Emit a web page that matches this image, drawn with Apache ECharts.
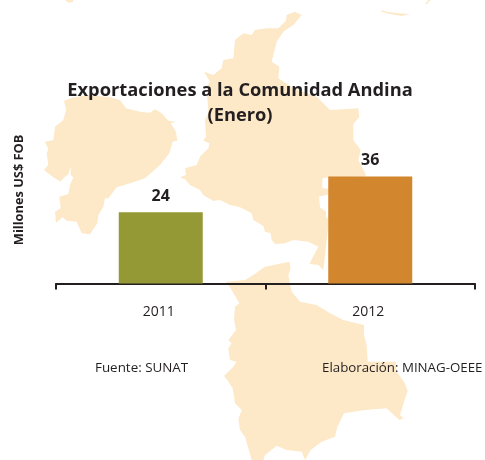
<!DOCTYPE html>
<html>
<head>
<meta charset="utf-8">
<style>html,body{margin:0;padding:0;background:#fff}#c{width:485px;height:460px}</style>
<script src="https://cdn.jsdelivr.net/npm/echarts@6/dist/echarts.min.js"></script>
</head>
<body>
<div id="c"></div>
<script>
const categories = ['2011', '2012'];
const values = [24, 36];
const barColors = ['#949935', '#d2862d'];
const titleText = 'Exportaciones a la Comunidad Andina\n(Enero)';
const yName = 'Millones US$ FOB';
const sourceText = 'Fuente: SUNAT';
const creditText = 'Elaboración: MINAG-OEEE';

const INK = '#231f20', MAP = '#fde9c8', FONT = '"Open Sans", "Noto Sans", sans-serif';

// Decorative background map outlines, as [offsetX, offsetY, [zoomed x, y ...]] at 3x
const ecuador = [40, 90, [72,32,100,22,150,15,210,22,240,30,258,55,300,65,330,68,345,58,365,70,385,92,408,96,392,100,408,125,412,152,398,155,388,190,360,225,315,265,270,280,230,292,205,325,195,325,190,350,175,375,172,400,150,433,125,430,110,395,80,392,68,382,48,398,45,365,62,355,58,320,85,312,90,285,100,262,92,255,92,230,85,252,65,270,62,275,40,262,12,240,25,225,20,190,25,178,15,155,40,150,45,110,70,90,78,60]];
const colombiaTop = [0, 0, [615,360,625,340,620,260,630,245,612,215,640,225,665,205,670,180,700,175,705,120,730,100,755,105,765,90,800,85,835,85,858,62,860,45,885,35,905,45,880,75,850,95,830,125,815,185,838,200,835,235,880,265,950,290,990,330,1075,325,1078,350,1060,372,1060,420,1082,450,1075,480,1098,525]];
const colombiaLow = [180, 120, [553,170,450,172,427,175,427,205,460,207,460,220,417,230,420,262,438,275,438,290,447,300,430,450,415,435,388,432,415,380,385,365,340,360,315,370,285,372,275,360,272,340,255,335,250,318,220,300,215,280,180,262,150,255,120,240,100,243,70,225,60,210,30,195,15,178,0,172,18,165,15,145,50,135,60,110,85,85,88,70,70,62,78,50]];
const bolivia = [220, 260, [18,65,75,60,100,45,135,20,175,12,208,5,212,25,205,45,210,70,215,95,240,125,290,135,330,160,370,180,432,195,432,225,440,255,443,305,528,305,530,335,552,365,563,392,552,425,540,465,550,475,538,480,500,445,435,450,372,460,352,500,345,530,305,545,272,570,255,600,245,575,200,570,170,557,135,585,130,600,95,600,75,530,60,510,55,478,65,450,45,430,38,385,22,360,12,348,40,320,50,305,30,300,25,265,35,250,25,240,48,210,42,180,45,140,58,130,35,90]];
const scrapA = [0, 0, [195,0,205,8,220,5,220,0]];
const scrapB = [0, 0, [1145,30,1160,35,1195,40,1230,42,1205,48,1170,42,1145,35]];
const scrapC = [0, 0, [1275,12,1285,0,1292,0,1280,12]];

function toPoints(part) {
  const pts = [];
  for (let i = 0; i < part[2].length; i += 2) pts.push([part[2][i] / 3 + part[0], part[2][i + 1] / 3 + part[1]]);
  return pts;
}
const shapes = [ecuador, bolivia, scrapA, scrapB, scrapC].map(toPoints);
shapes.push(toPoints(colombiaTop).concat(toPoints(colombiaLow)));

const chart = echarts.init(document.getElementById('c'), null, {renderer: 'canvas'});
chart.setOption({
  backgroundColor: '#fff',
  animation: false,
  title: {
    text: titleText, left: 235, top: 73, textAlign: 'center',
    textStyle: {fontFamily: FONT, fontWeight: 'bold', fontSize: 18.3, lineHeight: 25, color: INK}
  },
  grid: {left: 56, right: 10, top: 96.3, bottom: 176.5},
  xAxis: {
    type: 'category', data: categories, boundaryGap: true,
    axisLine: {lineStyle: {color: INK, width: 2}},
    axisTick: {show: true, length: 6, lineStyle: {color: INK, width: 2}},
    axisLabel: {color: INK, fontFamily: FONT, fontSize: 14, margin: 22, padding: [0, 4, 0, 0]}
  },
  yAxis: {
    type: 'value', min: 0, max: 63,
    axisLine: {show: false}, axisTick: {show: false}, axisLabel: {show: false}, splitLine: {show: false},
    name: yName, nameLocation: 'middle', nameRotate: 90, nameGap: 30,
    nameTextStyle: {color: INK, fontFamily: FONT, fontWeight: 'bold', fontSize: 12.8}
  },
  series: [{
    type: 'bar', barWidth: 84,
    data: values.map((v, i) => ({value: v, itemStyle: {color: barColors[i]}})),
    label: {show: true, position: 'top', distance: 8, color: INK, fontFamily: FONT, fontWeight: 'bold', fontSize: 16}
  }],
  graphic: shapes.map(points => ({
    type: 'polygon', z: -1, silent: true, shape: {points}, style: {fill: MAP}
  })).concat([
    {type: 'text', x: 95, y: 368, style: {text: sourceText, fill: INK, font: '13.4px ' + FONT, textVerticalAlign: 'middle'}},
    {type: 'text', x: 322, y: 368, style: {text: creditText, fill: INK, font: '13.3px ' + FONT, textVerticalAlign: 'middle'}}
  ])
});
</script>
</body>
</html>
